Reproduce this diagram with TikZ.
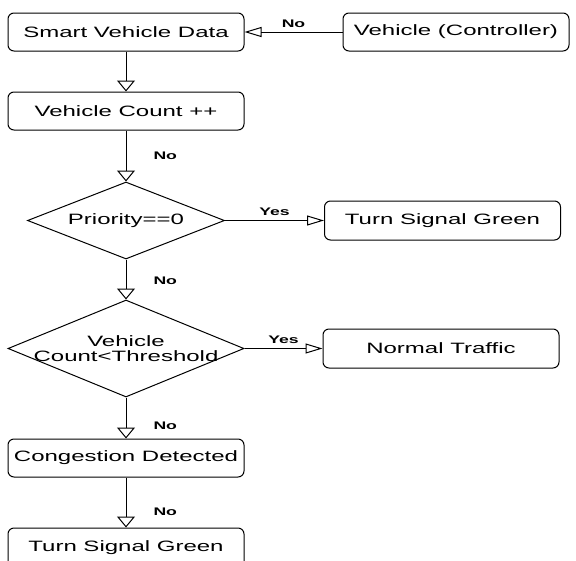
\documentclass[tikz,border=0pt]{standalone}
\usepackage{fontspec}
\setmainfont{Liberation Sans}[FakeStretch=1.6]
\usetikzlibrary{positioning,shapes.geometric,arrows.meta}

\tikzset{
  block/.style={draw, rounded corners=6pt, minimum width=236pt, minimum height=38pt,
    inner xsep=4pt, font=\fontsize{15}{17}\selectfont},
  decision/.style={draw, diamond, aspect=2.4, inner sep=-10pt, align=center,
    font=\fontsize{15}{15}\selectfont},
  vflow/.style={-{Triangle[open, length=11pt, width=18pt]}},
  hflow/.style={-{Triangle[open, length=17pt, width=10pt]}},
  lbl/.style={font=\fontsize{11}{12}\selectfont\bfseries, inner sep=1pt}
}

\begin{document}
\begin{tikzpicture}[x=1pt, y=-1pt, line width=1pt]

    \useasboundingbox (0,0) rectangle (576,560);

    % Define nodes
    \node[block]                                  (smart) at (126,32) {Smart Vehicle Data};
    \node[block, minimum width=226pt, right=98pt of smart] (ctrl) {Vehicle (Controller)};
    \node[block, below=40pt of smart]             (count) {Vehicle Count ++};
    \node[decision, minimum width=197pt, minimum height=77pt, below=51pt of count] (prio) {Priority==0};
    \node[block, minimum height=39pt, right=99pt of prio]  (green) {Turn Signal Green};
    \node[decision, minimum width=236pt, minimum height=97pt, below=40pt of prio] (thresh) {Vehicle\\Count<Threshold};
    \node[block, minimum height=39pt, right=78pt of thresh] (normal) {Normal Traffic};
    \node[block, below=41pt of thresh]            (cong) {Congestion Detected};
    \node[block, minimum height=40pt, below=50pt of cong]  (final) {Turn Signal Green};

    % Connect the nodes
    \draw[hflow] (ctrl) -- node[lbl, above=3pt] {No} (smart);
    \draw[vflow] (smart) -- (count);
    \draw[vflow] (count) -- node[lbl, right=26pt] {No} (prio);
    \draw[hflow] (prio) -- node[lbl, above=3pt] {Yes} (green);
    \draw[vflow] (prio) -- node[lbl, right=26pt, pos=0.52] {No} (thresh);
    \draw[hflow] (thresh) -- node[lbl, above=3pt] {Yes} (normal);
    \draw[vflow] (thresh) -- node[lbl, right=26pt, pos=0.7] {No} (cong);
    \draw[vflow] (cong) -- node[lbl, right=26pt, pos=0.68] {No} (final);

\end{tikzpicture}
\end{document}
